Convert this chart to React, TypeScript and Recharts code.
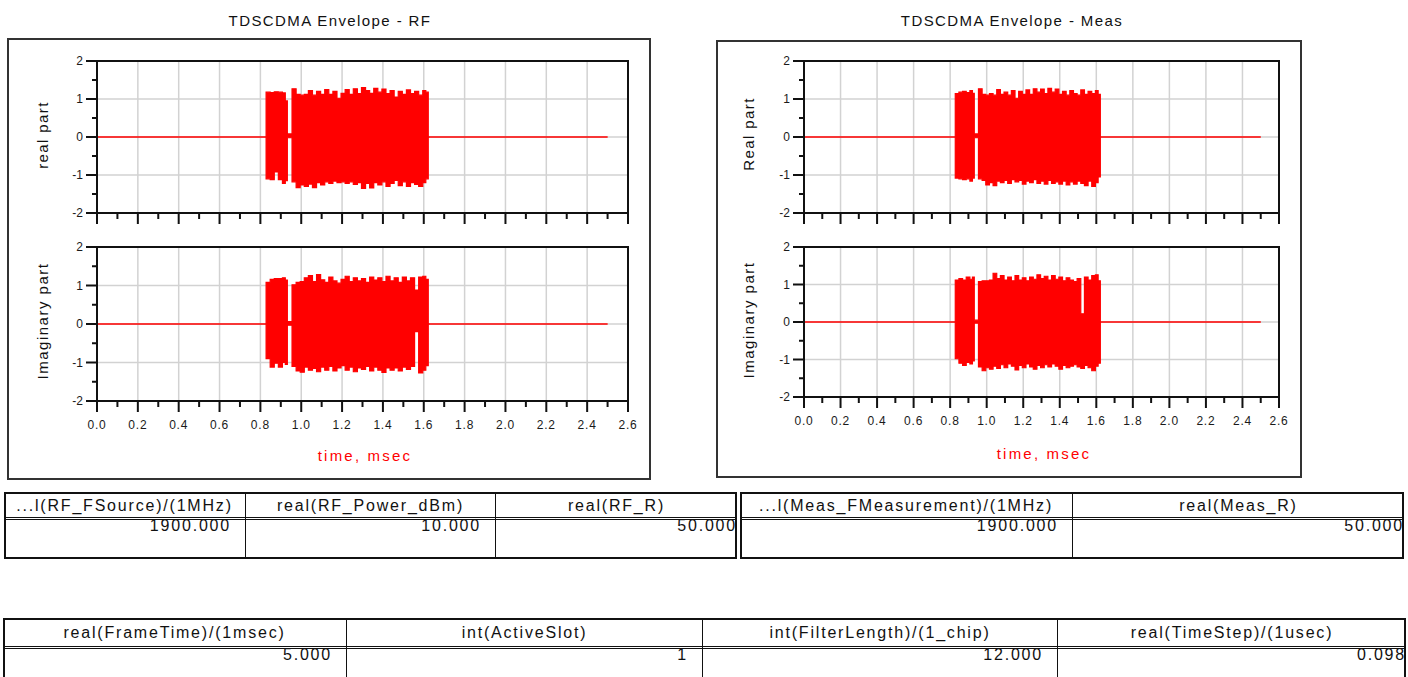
import React from 'react';
import { ComposedChart, Area, XAxis, YAxis, CartesianGrid, ReferenceArea } from 'recharts';

// sample instants (msec) for the burst envelope; a step is held until the next instant
const TIMES = [
  0, 0.828, 0.848, 0.868, 0.888, 0.908, 0.922, 0.932,
  0.955, 0.975, 0.995, 1.015, 1.035, 1.055, 1.075, 1.095, 1.115, 1.135,
  1.155, 1.175, 1.195, 1.215, 1.235, 1.255, 1.275, 1.295, 1.315, 1.335,
  1.355, 1.375, 1.395, 1.415, 1.435, 1.455, 1.475, 1.495, 1.515, 1.535,
  1.555, 1.575, 1.595, 1.61, 1.622, 2.5,
];

// upper / lower envelope of each trace at the instants above
const RF_REAL_HI = [
  0, 1.18, 1.17, 1.19, 1.18, 1.16, 0.95, 0.08,
  1.27, 1.12, 1.1, 1.12, 1.22, 1.1, 1.2, 1.12, 1.25, 1.12,
  1.2, 1.02, 1.15, 1.25, 1.12, 1.27, 1.14, 1.3, 1.22, 1.15,
  1.28, 1.18, 1.26, 1.14, 1.22, 1.05, 1.2, 1.12, 1.24, 1.14,
  1.2, 1.1, 1.22, 1.18, 0, 0,
];
const RF_REAL_LO = [
  0, -1.1, -1.12, -0.92, -1.12, -1.22, -1.15, -0.02,
  -1.18, -1.33, -1.26, -1.3, -1.24, -1.33, -1.2, -1.26, -1.18, -1.22,
  -1.16, -1.2, -1.18, -1.22, -1.18, -1.25, -1.2, -1.35, -1.22, -1.34,
  -1.2, -1.26, -1.18, -1.3, -1.22, -1.14, -1.28, -1.18, -1.3, -1.2,
  -1.25, -1.3, -1.2, -1.1, 0, 0,
];
const RF_IMAG_HI = [
  0, 1.08, 1.16, 1.18, 1.18, 1.2, 1.14, 0.06,
  1.02, 1.08, 1.1, 1.2, 1.26, 1.1, 1.28, 1.15, 1.08, 1.22,
  1.12, 1.06, 1.16, 1.24, 1.1, 1.2, 1.12, 1.18, 1.08, 1.22,
  1.14, 1.2, 1.1, 1.24, 1.12, 1.2, 1.08, 1.22, 1.12, 1.2,
  0.88, 1.22, 1.24, 1.16, 0, 0,
];
const RF_IMAG_LO = [
  0, -0.9, -1.12, -1.02, -1.12, -1.0, -1.05, -0.03,
  -1.1, -1.22, -1.25, -1.12, -1.2, -1.15, -1.24, -1.12, -1.2, -1.1,
  -1.22, -1.14, -1.08, -1.2, -1.12, -1.24, -1.14, -1.18, -1.1, -1.22,
  -1.12, -1.2, -1.26, -1.14, -1.2, -1.14, -1.22, -1.12, -1.18, -1.1,
  -0.2, -1.27, -1.2, -1.08, 0, 0,
];
const MEAS_REAL_HI = [
  0, 1.14, 1.18, 1.2, 1.17, 1.22, 1.15, 0.08,
  1.27, 1.12, 1.1, 1.14, 1.1, 1.25, 1.12, 1.18, 1.1, 1.22,
  1.02, 1.2, 1.12, 1.24, 1.12, 1.27, 1.18, 1.26, 1.14, 1.28,
  1.18, 1.26, 1.12, 1.2, 1.1, 1.22, 1.14, 1.1, 1.24, 1.12,
  1.2, 1.14, 1.22, 1.12, 0, 0,
];
const MEAS_REAL_LO = [
  0, -1.08, -1.1, -1.12, -1.1, -1.16, -1.08, -0.02,
  -1.1, -1.14, -1.26, -1.2, -1.28, -1.16, -1.2, -1.14, -1.22, -1.12,
  -1.18, -1.14, -1.24, -1.16, -1.2, -1.12, -1.22, -1.16, -1.24, -1.14,
  -1.22, -1.18, -1.24, -1.16, -1.26, -1.18, -1.24, -1.16, -1.22, -1.28,
  -1.16, -1.3, -1.2, -1.05, 0, 0,
];
const MEAS_IMAG_HI = [
  0, 1.12, 1.16, 1.12, 1.2, 1.14, 1.2, 0.05,
  1.08, 1.1, 1.1, 1.12, 1.3, 1.16, 1.24, 1.12, 1.2, 1.1,
  1.24, 1.12, 1.18, 1.1, 1.2, 1.14, 1.26, 1.16, 1.22, 1.12,
  1.24, 1.14, 1.2, 1.1, 1.18, 1.12, 1.08, 1.16, 0.22, 1.2,
  1.12, 1.24, 1.26, 1.1, 0, 0,
];
const MEAS_IMAG_LO = [
  0, -0.98, -1.1, -1.16, -1.08, -1.12, -1.04, -0.03,
  -1.2, -1.3, -1.22, -1.26, -1.18, -1.24, -1.14, -1.22, -1.12, -1.18,
  -1.28, -1.16, -1.22, -1.12, -1.2, -1.26, -1.16, -1.22, -1.14, -1.2,
  -1.12, -1.18, -1.26, -1.16, -1.22, -1.18, -1.14, -1.2, -1.24, -1.16,
  -1.22, -1.3, -1.18, -1.1, 0, 0,
];

const TIME_TICKS = [
  0, 0.1, 0.2, 0.3, 0.4, 0.5, 0.6, 0.7, 0.8, 0.9, 1.0, 1.1, 1.2, 1.3,
  1.4, 1.5, 1.6, 1.7, 1.8, 1.9, 2.0, 2.1, 2.2, 2.3, 2.4, 2.5, 2.6,
];
const TIME_GRID = [0.2, 0.4, 0.6, 0.8, 1.0, 1.2, 1.4, 1.6, 1.8, 2.0, 2.2, 2.4];
const LEVEL_TICKS = [-2, -1.5, -1, -0.5, 0, 0.5, 1, 1.5, 2];
const LEVEL_GRID = [-1, 0, 1];

const RF_TABLE_HEADERS = ['...l(RF_FSource)/(1MHz)', 'real(RF_Power_dBm)', 'real(RF_R)'];
const RF_TABLE_VALUES = ['1900.000', '10.000', '50.000'];
const MEAS_TABLE_HEADERS = ['...l(Meas_FMeasurement)/(1MHz)', 'real(Meas_R)'];
const MEAS_TABLE_VALUES = ['1900.000', '50.000'];
const SETUP_TABLE_HEADERS = [
  'real(FrameTime)/(1msec)',
  'int(ActiveSlot)',
  'int(FilterLength)/(1_chip)',
  'real(TimeStep)/(1usec)',
];
const SETUP_TABLE_VALUES = ['5.000', '1', '12.000', '0.098'];

const FONT = '"Liberation Sans", Arial, sans-serif';
const INK = '#111';
const TRACE = '#ff0000';
const Y_AXIS_W = 60;

function envelope(hi: number[], lo: number[]) {
  return TIMES.map((t, i) => ({ t, band: [lo[i], hi[i]] }));
}

function isMajorTime(v: number) {
  return Math.abs(v * 5 - Math.round(v * 5)) < 1e-6;
}

function TimeTick(props: any) {
  const { x, y, payload, showLabel } = props;
  const v = payload.value as number;
  const major = isMajorTime(v);
  return (
    <g>
      <line x1={x} x2={x} y1={y} y2={y + (major ? 11 : 6)} stroke={INK} strokeWidth={2} />
      {showLabel && major && (
        <text x={x} y={y + 28} textAnchor="middle" fontSize={12} fill="#1a1a1a" fontFamily={FONT} letterSpacing={0.8}>
          {v.toFixed(1)}
        </text>
      )}
    </g>
  );
}

function LevelTick(props: any) {
  const { x, y, payload } = props;
  const v = payload.value as number;
  const major = Number.isInteger(v);
  return (
    <g>
      <line x1={x} x2={x - (major ? 11 : 5)} y1={y} y2={y} stroke={INK} strokeWidth={2} />
      {major && (
        <text x={x - 14} y={y + 4} textAnchor="end" fontSize={12} fill="#1a1a1a" fontFamily={FONT}>
          {v}
        </text>
      )}
    </g>
  );
}

type PlotBox = { x: number; y: number; w: number; h: number };

function EnvelopePlot({ box, data, showLabels }: { box: PlotBox; data: any[]; showLabels: boolean }) {
  const marginTop = 10;
  const marginRight = 12;
  const axisH = showLabels ? 40 : 20;
  return (
    <div style={{ position: 'absolute', left: box.x - Y_AXIS_W, top: box.y - marginTop }}>
      <ComposedChart
        width={Y_AXIS_W + box.w + marginRight}
        height={marginTop + box.h + axisH}
        data={data}
        margin={{ top: marginTop, right: marginRight, left: 0, bottom: 0 }}
      >
        <CartesianGrid verticalValues={TIME_GRID} horizontalValues={LEVEL_GRID} stroke="#d2d2d2" strokeWidth={1.5} />
        <XAxis
          dataKey="t"
          type="number"
          domain={[0, 2.6]}
          ticks={TIME_TICKS}
          interval={0}
          height={axisH}
          tickSize={0}
          tickMargin={0}
          tickLine={false}
          axisLine={{ stroke: INK, strokeWidth: 2 }}
          tick={(p: any) => <TimeTick {...p} showLabel={showLabels} />}
        />
        <YAxis
          type="number"
          domain={[-2, 2]}
          ticks={LEVEL_TICKS}
          interval={0}
          width={Y_AXIS_W}
          tickSize={0}
          tickMargin={0}
          tickLine={false}
          axisLine={{ stroke: INK, strokeWidth: 2 }}
          tick={(p: any) => <LevelTick {...p} />}
        />
        <Area
          dataKey="band"
          type="stepAfter"
          stroke={TRACE}
          strokeWidth={1.2}
          fill={TRACE}
          fillOpacity={1}
          isAnimationActive={false}
        />
        <ReferenceArea x1={0} x2={2.6} y1={-2} y2={2} fill="none" stroke={INK} strokeWidth={2} />
      </ComposedChart>
    </div>
  );
}

function Caption({ x, y, text, size, spacing, color = INK, rotate = false }: any) {
  return (
    <div
      style={{
        position: 'absolute',
        left: x,
        top: y,
        transform: `translate(-50%, -50%)${rotate ? ' rotate(-90deg)' : ''}`,
        whiteSpace: 'nowrap',
        fontFamily: FONT,
        fontSize: size,
        letterSpacing: spacing,
        color,
        lineHeight: 1,
      }}
    >
      {text}
    </div>
  );
}

function ParamTable({ edges, top, headerH, rowH, headers, values }: any) {
  const left = edges[0];
  const width = edges[edges.length - 1] - left;
  return (
    <div
      style={{
        position: 'absolute',
        left,
        top,
        width,
        height: headerH + rowH,
        border: `2px solid ${INK}`,
        boxSizing: 'border-box',
        fontFamily: FONT,
        fontSize: 16,
        letterSpacing: 1.8,
        color: INK,
      }}
    >
      <div style={{ position: 'absolute', left: 0, right: 0, top: headerH - 4, borderTop: `3px double ${INK}` }} />
      {headers.map((h: string, i: number) => {
        const last = i === headers.length - 1;
        return (
          <div
            key={h}
            style={{
              position: 'absolute',
              left: edges[i] - left - 2,
              width: edges[i + 1] - edges[i],
              top: 0,
              bottom: 0,
              borderLeft: i ? `1px solid ${INK}` : 'none',
              boxSizing: 'border-box',
            }}
          >
            <div style={{ height: headerH - 4, lineHeight: `${headerH - 4}px`, textAlign: 'center', whiteSpace: 'nowrap', overflow: 'hidden' }}>
              {h}
            </div>
            <div style={{ textAlign: 'right', paddingRight: last ? 0 : 14, lineHeight: '18px', whiteSpace: 'nowrap' }}>
              {values[i]}
            </div>
          </div>
        );
      })}
    </div>
  );
}

export default function App() {
  const rfReal = envelope(RF_REAL_HI, RF_REAL_LO);
  const rfImag = envelope(RF_IMAG_HI, RF_IMAG_LO);
  const measReal = envelope(MEAS_REAL_HI, MEAS_REAL_LO);
  const measImag = envelope(MEAS_IMAG_HI, MEAS_IMAG_LO);

  return (
    <div style={{ position: 'absolute', left: 0, top: 0, width: 1408, height: 677, overflow: 'hidden', background: '#fff' }}>
      {/* frames around the two plot groups */}
      <div style={{ position: 'absolute', left: 7, top: 38, width: 644, height: 442, border: '2px solid #333', boxSizing: 'border-box' }} />
      <div style={{ position: 'absolute', left: 716, top: 40, width: 586, height: 438, border: '2px solid #333', boxSizing: 'border-box' }} />

      <Caption x={330} y={20} text="TDSCDMA Envelope - RF" size={15} spacing={1.4} />
      <Caption x={1012} y={20} text="TDSCDMA Envelope - Meas" size={15} spacing={1.4} />

      <EnvelopePlot box={{ x: 97, y: 61, w: 531, h: 152 }} data={rfReal} showLabels={false} />
      <EnvelopePlot box={{ x: 97, y: 247, w: 531, h: 154 }} data={rfImag} showLabels />
      <EnvelopePlot box={{ x: 804, y: 61, w: 475, h: 152 }} data={measReal} showLabels={false} />
      <EnvelopePlot box={{ x: 804, y: 247, w: 475, h: 150 }} data={measImag} showLabels />

      <Caption x={42} y={135} text="real part" size={15} spacing={1.4} rotate />
      <Caption x={42} y={321} text="Imaginary part" size={15} spacing={1.5} rotate />
      <Caption x={748} y={134} text="Real part" size={15} spacing={1.4} rotate />
      <Caption x={748} y={320} text="Imaginary part" size={15} spacing={1.5} rotate />
      <Caption x={365} y={455} text="time, msec" size={15} spacing={2.2} color={TRACE} />
      <Caption x={1044} y={453} text="time, msec" size={15} spacing={2.2} color={TRACE} />

      <ParamTable edges={[4, 245, 495, 737]} top={492} headerH={27} rowH={40} headers={RF_TABLE_HEADERS} values={RF_TABLE_VALUES} />
      <ParamTable edges={[740, 1072, 1404]} top={492} headerH={27} rowH={40} headers={MEAS_TABLE_HEADERS} values={MEAS_TABLE_VALUES} />
      <ParamTable edges={[3, 346, 702, 1057, 1406]} top={618} headerH={30} rowH={50} headers={SETUP_TABLE_HEADERS} values={SETUP_TABLE_VALUES} />
    </div>
  );
}
